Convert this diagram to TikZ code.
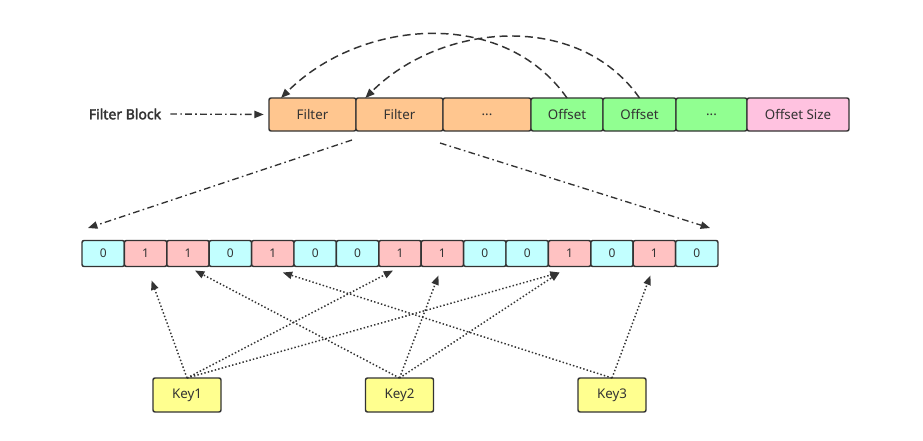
\documentclass[tikz,border=0pt]{standalone}
\usepackage{fontspec}
\setmainfont{Noto Sans}
\newfontfamily\blkfont{Noto Sans}[FakeBold=2.5]
\usepackage{tikz}
\usetikzlibrary{arrows.meta,positioning,calc}
\usepackage{xcolor}
\definecolor{linecol}{HTML}{333333}
\definecolor{filtercol}{HTML}{FFC68F}
\definecolor{offsetcol}{HTML}{91FF91}
\definecolor{sizecol}{HTML}{FFC2E0}
\definecolor{bit0}{HTML}{C2FFFF}
\definecolor{bit1}{HTML}{FFC2C2}
\definecolor{keycol}{HTML}{FFFF8F}

\begin{document}
\begin{tikzpicture}[x=0.75pt, y=0.75pt, line width=1.1pt,
    cell/.style={draw=linecol, rounded corners=1.5pt, inner sep=0pt, outer sep=0pt, text=linecol, font=\fontsize{10}{12}\selectfont},
    topcell/.style={cell, minimum height=33*0.75pt},
    bitcell/.style={cell, minimum width=42.4*0.75pt, minimum height=26*0.75pt, font=\fontsize{9}{11}\selectfont},
    keybox/.style={cell, fill=keycol, minimum width=68*0.75pt, minimum height=34*0.75pt},
    tip/.style={-{Triangle[length=7pt,width=5.5pt]}},
    dashdot/.style={tip, draw=linecol, line width=1pt, dash pattern=on 5pt off 2.5pt on 1.2pt off 2.5pt},
    dashline/.style={tip, draw=linecol, line width=1.1pt, dash pattern=on 6pt off 3.5pt},
    keyline/.style={tip, draw=linecol, line width=1.1pt, dash pattern=on 1.1pt off 1.6pt}]
    \useasboundingbox (0,0) rectangle (923,440);

    % Filter block row
    \node[font=\fontsize{10.5}{12}\blkfont, text=linecol] (blk) at (125,326) {Filter Block};
    \node[topcell, fill=filtercol, minimum width=87*0.75pt, anchor=west] (fA) at (269,325.5) {Filter};
    \node[topcell, fill=filtercol, minimum width=87*0.75pt, right=0pt of fA] (fB) {Filter};
    \node[topcell, fill=filtercol, minimum width=88*0.75pt, right=0pt of fB] (fC) {...};
    \node[topcell, fill=offsetcol, minimum width=72*0.75pt, right=0pt of fC] (oA) {Offset};
    \node[topcell, fill=offsetcol, minimum width=73*0.75pt, right=0pt of oA] (oB) {Offset};
    \node[topcell, fill=offsetcol, minimum width=71*0.75pt, right=0pt of oB] (oC) {...};
    \node[topcell, fill=sizecol, minimum width=102*0.75pt, right=0pt of oC] (oS) {Offset Size};

    \draw[dashdot, shorten <=3pt, shorten >=4pt] (blk.east) -- (fA.west);

    % Offsets point back to their filters
    \draw[dashline] (oA.north) to[out=125, in=45] ([xshift=9]fA.north west);
    \draw[dashline] (oB.north) to[out=125, in=45] ([xshift=7]fB.north west);

    % Bit array
    \foreach \b [count=\i from 0] in {0,1,1,0,1,0,0,1,1,0,0,1,0,1,0}
        \node[bitcell, fill=bit\b] (b\i) at ({82+42.4*\i+21.2}, 186.5) {\b};

    \draw[dashdot] ([shift={(-4,-9)}]fB.south west) -- ([shift={(6,12.5)}]b0.north west);
    \draw[dashdot] ([shift={(-3,-12)}]fB.south east) -- ([shift={(-8,12.5)}]b14.north east);

    % Keys
    \node[keybox] (k1) at (187,45) {Key1};
    \node[keybox] (k2) at (399.5,45) {Key2};
    \node[keybox] (k3) at (612,45) {Key3};

    \draw[keyline] (k1.north) -- ([shift={(6,-14)}]b1.south);
    \draw[keyline] (k1.north) -- ([shift={(-7,-4)}]b7.south);
    \draw[keyline] (k1.north) -- ([shift={(-10,-6)}]b11.south);
    \draw[keyline] (k2.north) -- ([shift={(7,-4)}]b2.south);
    \draw[keyline] (k2.north) -- ([shift={(-4,-9)}]b8.south);
    \draw[keyline] (k2.north) -- ([shift={(-10,-6)}]b11.south);
    \draw[keyline] (k3.north) -- ([shift={(10,-6)}]b4.south);
    \draw[keyline] (k3.north) -- ([shift={(-4,-9)}]b13.south);
\end{tikzpicture}
\end{document}
